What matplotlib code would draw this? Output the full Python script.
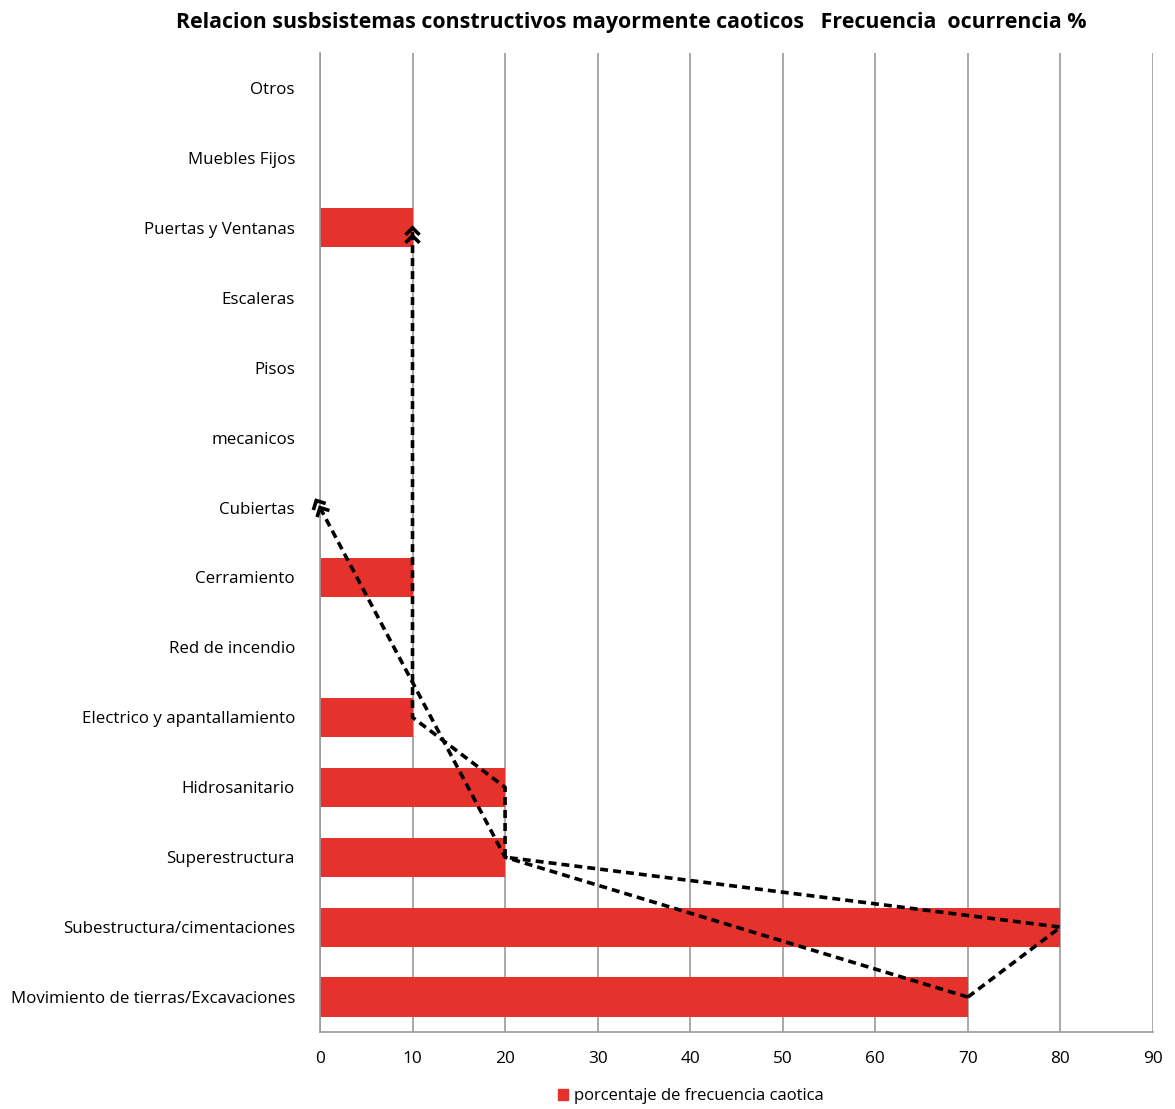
import numpy as np
import matplotlib.pyplot as plt
from matplotlib.patches import Patch

plt.rcParams['font.family'] = ['Open Sans', 'DejaVu Sans']

# Categorias (de abajo hacia arriba)
categorias = [
    "Movimiento de tierras/Excavaciones",
    "Subestructura/cimentaciones",
    "Superestructura",
    "Hidrosanitario",
    "Electrico y apantallamiento",
    "Red de incendio",
    "Cerramiento",
    "Cubiertas",
    "mecanicos",
    "Pisos",
    "Escaleras",
    "Puertas y Ventanas",
    "Muebles Fijos",
    "Otros",
]
frecuencia = [70, 80, 20, 20, 10, 0, 10, 0, 0, 0, 0, 10, 0, 0]

# Trazos punteados dibujados sobre la grafica (indice de categoria, valor)
trazo_a = [(0, 70), (1, 80), (2, 20), (3, 20), (4, 10), (11, 10)]
trazo_b = [(0, 70), (2, 20), (7.1, -0.4)]

rojo = "#e5322d"
gris = "#9a9a9a"

fig = plt.figure(figsize=(11.75, 11.09), dpi=100)
ax = fig.add_axes([0.2723, 0.0694, 0.7090, 0.8828])

y = list(range(len(categorias)))
ax.barh(y, frecuencia, height=0.56, color=rojo, zorder=2)

ax.set_xlim(0, 90)
ax.set_ylim(-0.5, len(categorias) - 0.5)
ax.set_xticks(range(0, 91, 10))
ax.set_yticks(y)
ax.set_yticklabels(categorias, fontsize=12.2)
ax.tick_params(axis='y', length=0, pad=18)
ax.tick_params(axis='x', length=0, pad=14, labelsize=12.4)
ax.grid(axis='x', color=gris, linewidth=1.2, zorder=1)
for s in ['top', 'right']:
    ax.spines[s].set_visible(False)
for s in ['left', 'bottom']:
    ax.spines[s].set_color(gris)
    ax.spines[s].set_linewidth(1.2)


def dibujar_trazo(puntos):
    ys = [p[0] for p in puntos]
    xs = [p[1] for p in puntos]
    ax.plot(xs, ys, color='black', linestyle=(0, (2.2, 1.4)), linewidth=2.6, zorder=4,
            clip_on=False)
    # doble punta de flecha (chevrones) al final, en pixeles
    (y0, x0), (y1, x1) = puntos[-2], puntos[-1]
    p0 = ax.transData.transform((x0, y0))
    p1 = ax.transData.transform((x1, y1))
    d = (p1 - p0) / np.hypot(*(p1 - p0))
    n = np.array([-d[1], d[0]])
    inv = ax.transData.inverted()
    for k in (0, 8):
        tip = p1 - d * k
        pts = np.array([tip - d * 7 + n * 7, tip, tip - d * 7 - n * 7])
        pts = inv.transform(pts)
        ax.plot(pts[:, 0], pts[:, 1], color='black', linewidth=2.6, zorder=5,
                clip_on=False, solid_capstyle='butt', solid_joinstyle='miter')


dibujar_trazo(trazo_a)
dibujar_trazo(trazo_b)

fig.text(0.537, 0.980, "Relacion susbsistemas constructivos mayormente caoticos   Frecuencia  ocurrencia %",
         ha='center', va='center', fontsize=15.4, fontweight='bold')

fig.legend(handles=[Patch(color=rojo, label="porcentaje de frecuencia caotica")],
           loc='center', bbox_to_anchor=(0.588, 0.0115), frameon=False, fontsize=12,
           handlelength=0.6, handleheight=0.6, handletextpad=0.4)

fig.savefig("out.png", dpi=100)
